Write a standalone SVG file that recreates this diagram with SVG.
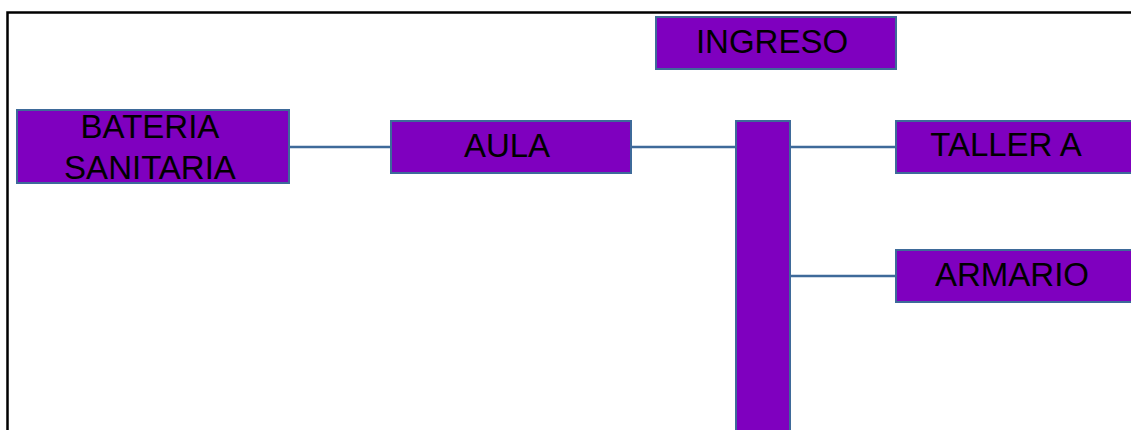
<svg xmlns="http://www.w3.org/2000/svg" width="1131" height="430" viewBox="0 0 1131 430">
<style>
.box{fill:#7F00BF;stroke:#3E6A9A;stroke-width:2}
.lbl{font-family:"Liberation Sans",Arial,sans-serif;font-size:33px;fill:#000;text-anchor:middle}
.conn line{stroke:#3E6A9A;stroke-width:2.5}
</style>
<rect width="1131" height="430" fill="#fff"/>
<path d="M7.5,432 V12.5 H1133" fill="none" stroke="#000" stroke-width="2.5"/>
<g class="conn" id="connectors">
<line x1="289" y1="147" x2="391" y2="147"/>
<line x1="631" y1="147" x2="736" y2="147"/>
<line x1="790" y1="147" x2="896" y2="147"/>
<line x1="790" y1="276" x2="896" y2="276"/>
</g>
<g id="bateria"><rect class="box" x="17" y="110" width="272" height="73"/><text class="lbl" x="150" y="138">BATERIA</text><text class="lbl" x="150" y="179">SANITARIA</text></g>
<g id="aula"><rect class="box" x="391" y="121" width="240" height="52"/><text class="lbl" x="507" y="157">AULA</text></g>
<g id="ingreso"><rect class="box" x="656" y="17" width="240" height="52"/><text class="lbl" x="772" y="53">INGRESO</text></g>
<g id="pasillo"><rect class="box" x="736" y="121" width="54" height="320"/></g>
<g id="taller"><rect class="box" x="896" y="121" width="250" height="52"/><text class="lbl" x="1006" y="156">TALLER A</text></g>
<g id="armario"><rect class="box" x="896" y="250" width="250" height="52"/><text class="lbl" x="1012" y="286">ARMARIO</text></g>
</svg>
